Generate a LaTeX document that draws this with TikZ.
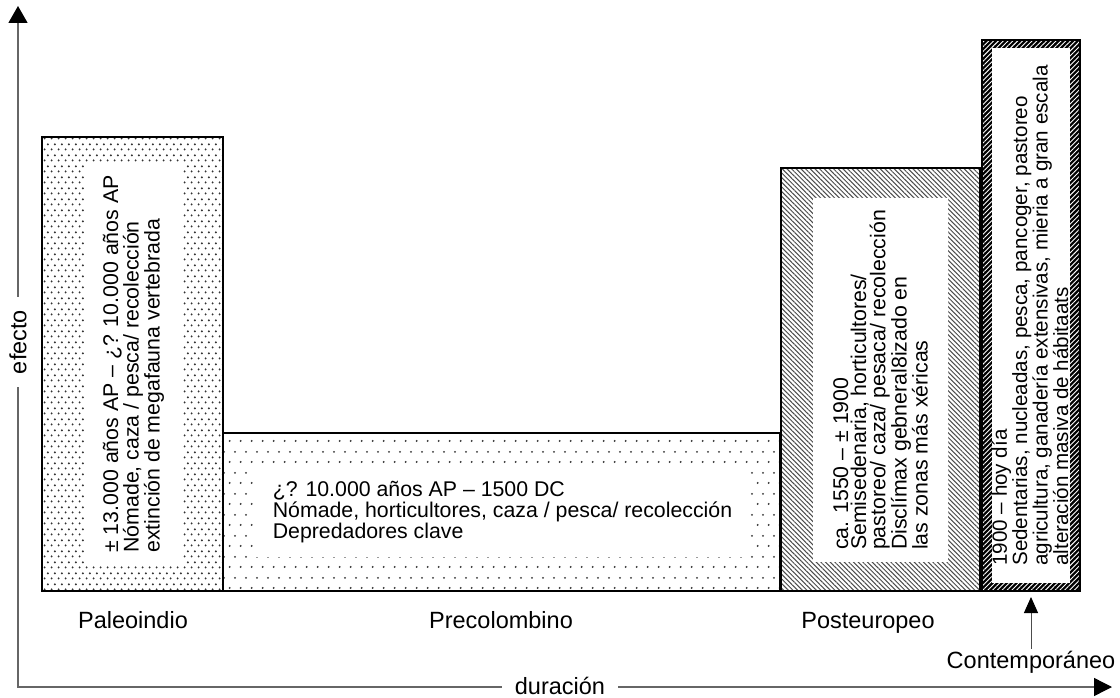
\documentclass[tikz,border=0pt]{standalone}
\usepackage{fontspec}
\setmainfont{Liberation Sans}
\usetikzlibrary{patterns,patterns.meta,arrows.meta}
\pgfdeclarepatternformonly{paleodots}{\pgfqpoint{0pt}{0pt}}{\pgfqpoint{7.2pt}{10.6pt}}{\pgfqpoint{7.2pt}{10.6pt}}{%
  \pgfpathcircle{\pgfqpoint{1.8pt}{2.65pt}}{1.15pt}%
  \pgfpathcircle{\pgfqpoint{5.4pt}{7.95pt}}{1.15pt}%
  \pgfusepath{fill}}
\pgfdeclarepatternformonly{predots}{\pgfqpoint{0pt}{0pt}}{\pgfqpoint{10.8pt}{21pt}}{\pgfqpoint{10.8pt}{21pt}}{%
  \pgfpathcircle{\pgfqpoint{2.7pt}{5.25pt}}{1.1pt}%
  \pgfpathcircle{\pgfqpoint{8.1pt}{15.75pt}}{1.1pt}%
  \pgfusepath{fill}}
\begin{document}
\begin{tikzpicture}[x=1pt,y=-1pt,
  bar/.style={draw=black, line width=1.2pt, inner sep=0pt, outer sep=0pt},
  hole/.style={fill=white, inner sep=0pt, outer sep=0pt},
  txt/.style={font=\fontsize{21.3}{19}\selectfont, align=left, inner sep=0pt},
  lbl/.style={font=\fontsize{23.5}{28}\selectfont, inner sep=1pt},
  axis/.style={draw=black!60, line width=1.4pt}]
\useasboundingbox[fill=white] (0,0) rectangle (1120,698);

% bars
\node[bar, pattern=paleodots, pattern color=black!80, minimum width=181pt, minimum height=454pt] (paleo) at (132.5,364) {};
\node[bar, pattern=predots, pattern color=black!80, minimum width=557pt, minimum height=158pt] (preco) at (501.5,512) {};
\node[bar, pattern={Lines[angle=-45,distance=3.3pt,line width=1pt]}, pattern color=black!70, minimum width=199pt, minimum height=423pt] (poste) at (880.5,379.5) {};
\node[bar, line width=2pt, preaction={fill=black}, pattern={Lines[angle=45,distance=3.4pt,line width=0.9pt]}, pattern color=white, minimum width=98pt, minimum height=551pt] (cont) at (1031,315.5) {};

% white inner areas
\node[hole, minimum width=97pt, minimum height=404pt] (paleoin) at (133.5,364) {};
\node[hole, minimum width=495pt, minimum height=90pt] (precoin) at (502.5,512) {};
\node[hole, minimum width=135pt, minimum height=364pt] (postein) at (880.5,380) {};
\node[hole, minimum width=78pt, minimum height=535pt] (contin) at (1031,315.5) {};

% texts
\node[txt, rotate=90] (paleotxt) at (paleoin.center) {± 13.000 años AP – ¿? 10.000 años AP\\Nómade,  caza / pesca/ recolección\\extinción de megafauna vertebrada};
\node[txt] (precotxt) at (precoin.center) {¿? 10.000 años AP – 1500 DC\\Nómade, horticultores, caza / pesca/ recolección\\Depredadores clave};
\node[txt, rotate=90, font=\fontsize{21.3}{18}\selectfont] (postetxt) at (postein.center) {ca. 1550 – ± 1900\\Semisedenaria, horticultores/\\pastoreo/ caza/ pesaca/ recolección\\Disclímax gebneral8izado en\\las zonas más xéricas};
\node[txt, rotate=90, font=\fontsize{20.6}{17.5}\selectfont] (conttxt) at ([xshift=-1pt]contin.center) {1900 – hoy día\\Sedentarias, nucleadas, pesca, pancoger, pastoreo\\agricultura, ganadería extensivas, mieria a gran escala\\alteración masiva de hábitaats};

% axes
\coordinate (yend) at (18,6);
\coordinate (xend) at (1112,687);
\draw[axis, {Triangle[length=17pt,width=19pt,color=black]}-{Triangle[length=18pt,width=18pt,color=black]}] (yend) |- (xend);
\node[lbl, fill=white, inner xsep=13pt, inner ysep=2pt, anchor=base] (dur) at (560,694) {duración};
\node[lbl, fill=white, rotate=90, inner xsep=13pt, inner ysep=2pt] (efe) at (18,342) {efecto};

% period labels
\node[lbl, anchor=base] (lpaleo) at (133,628) {Paleoindio};
\node[lbl, anchor=base] (lpreco) at (501,628) {Precolombino};
\node[lbl, anchor=base] (lposte) at (868,628) {Posteuropeo};
\node[lbl, anchor=base] (lcont) at (1031,668) {Contemporáneo};
\draw[line width=1pt, draw=black!70, -{Triangle[length=16pt,width=14pt,color=black]}, shorten >=6pt, shorten <=1pt] (lcont.north) -- (cont.south);
\end{tikzpicture}
\end{document}
